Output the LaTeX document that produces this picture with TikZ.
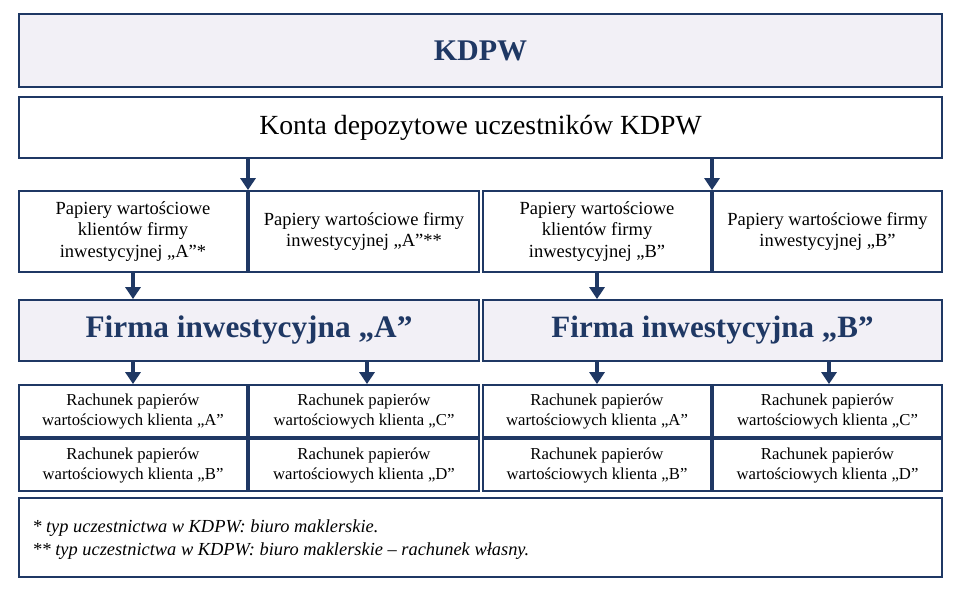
\documentclass[tikz,border=0pt]{standalone}
\usepackage{fontspec}
\setmainfont{Liberation Serif}
\usetikzlibrary{arrows.meta,calc}
\definecolor{navy}{RGB}{31,56,100}
\definecolor{lav}{RGB}{242,240,246}
\begin{document}
\begin{tikzpicture}[x=1pt,y=-1pt,
  box/.style={draw=navy,line width=1.8pt,rectangle,inner sep=0pt,align=center,text=black},
  hbox/.style={box,fill=lav,text=navy,font=\fontsize{30}{36}\selectfont\bfseries},
  ptext/.style={font=\fontsize{18.5}{21.7}\selectfont},
  rtext/.style={font=\fontsize{16.7}{20}\selectfont},
  arr/.style={draw=navy,line width=4pt,-{Triangle[width=15pt,length=12pt]}}]
\useasboundingbox (0,0) rectangle (960,596);
\fill[white] (0,0) rectangle (960,596);
% top boxes
\node[hbox,minimum width=923pt,minimum height=73pt] (kdpw) at (480.5,50.5) {KDPW};
\node[box,minimum width=923pt,minimum height=61pt,font=\fontsize{27.7}{32}\selectfont] (konta) at (480.5,127.5) {Konta depozytowe uczestników KDPW};
% papiery row
\node[box,ptext,minimum width=228pt,minimum height=81pt] (pa1) at (133,231.5) {Papiery wartościowe\\klientów firmy\\inwestycyjnej „A”*};
\node[box,ptext,minimum width=230pt,minimum height=81pt] (pa2) at (364,231.5) {Papiery wartościowe firmy\\inwestycyjnej „A”**};
\node[box,ptext,minimum width=228pt,minimum height=81pt] (pb1) at (597,231.5) {Papiery wartościowe\\klientów firmy\\inwestycyjnej „B”};
\node[box,ptext,minimum width=229pt,minimum height=81pt] (pb2) at (827.5,231.5) {Papiery wartościowe firmy\\inwestycyjnej „B”};
% firmy
\node[hbox,minimum width=460pt,minimum height=61pt,font=\fontsize{31.3}{36}\selectfont\bfseries] (fa) at (249,330.5) {Firma inwestycyjna „A”};
\node[hbox,minimum width=459pt,minimum height=61pt,font=\fontsize{31}{36}\selectfont\bfseries] (fb) at (712.5,330.5) {Firma inwestycyjna „B”};
% rachunki A
\node[box,rtext,minimum width=228pt,minimum height=52pt] (raa) at (133,411) {Rachunek papierów\\wartościowych klienta „A”};
\node[box,rtext,minimum width=230pt,minimum height=52pt] (rac) at (364,411) {Rachunek papierów\\wartościowych klienta „C”};
\node[box,rtext,minimum width=228pt,minimum height=52pt] (rab) at (133,465) {Rachunek papierów\\wartościowych klienta „B”};
\node[box,rtext,minimum width=230pt,minimum height=52pt] (rad) at (364,465) {Rachunek papierów\\wartościowych klienta „D”};
% rachunki B
\node[box,rtext,minimum width=228pt,minimum height=52pt] (rba) at (597,411) {Rachunek papierów\\wartościowych klienta „A”};
\node[box,rtext,minimum width=229pt,minimum height=52pt] (rbc) at (827.5,411) {Rachunek papierów\\wartościowych klienta „C”};
\node[box,rtext,minimum width=228pt,minimum height=52pt] (rbb) at (597,465) {Rachunek papierów\\wartościowych klienta „B”};
\node[box,rtext,minimum width=229pt,minimum height=52pt] (rbd) at (827.5,465) {Rachunek papierów\\wartościowych klienta „D”};
% footnote
\node[box,minimum width=923pt,minimum height=79pt] (foot) at (480.5,537.5) {};
\node[anchor=west,align=left,inner sep=0pt,font=\fontsize{18.4}{22.5}\selectfont\itshape] (foottext) at ($(foot.west)+(14,2)$) {* typ uczestnictwa w KDPW: biuro maklerskie.\\** typ uczestnictwa w KDPW: biuro maklerskie – rachunek własny.};
% arrows
\coordinate (ja) at ($(pa1.north east)!0.5!(pa2.north west)$);
\coordinate (jb) at ($(pb1.north east)!0.5!(pb2.north west)$);
\draw[arr] (konta.south -| ja) -- (ja);
\draw[arr] (konta.south -| jb) -- (jb);
\draw[arr] (pa1.south) -- (fa.north -| pa1.south);
\draw[arr] (pb1.south) -- (fb.north -| pb1.south);
\draw[arr] (fa.south -| raa.north) -- (raa.north);
\draw[arr] ([xshift=3pt]fa.south -| rac.north) -- ([xshift=3pt]rac.north);
\draw[arr] (fb.south -| rba.north) -- (rba.north);
\draw[arr] ([xshift=1.5pt]fb.south -| rbc.north) -- ([xshift=1.5pt]rbc.north);
\end{tikzpicture}
\end{document}
